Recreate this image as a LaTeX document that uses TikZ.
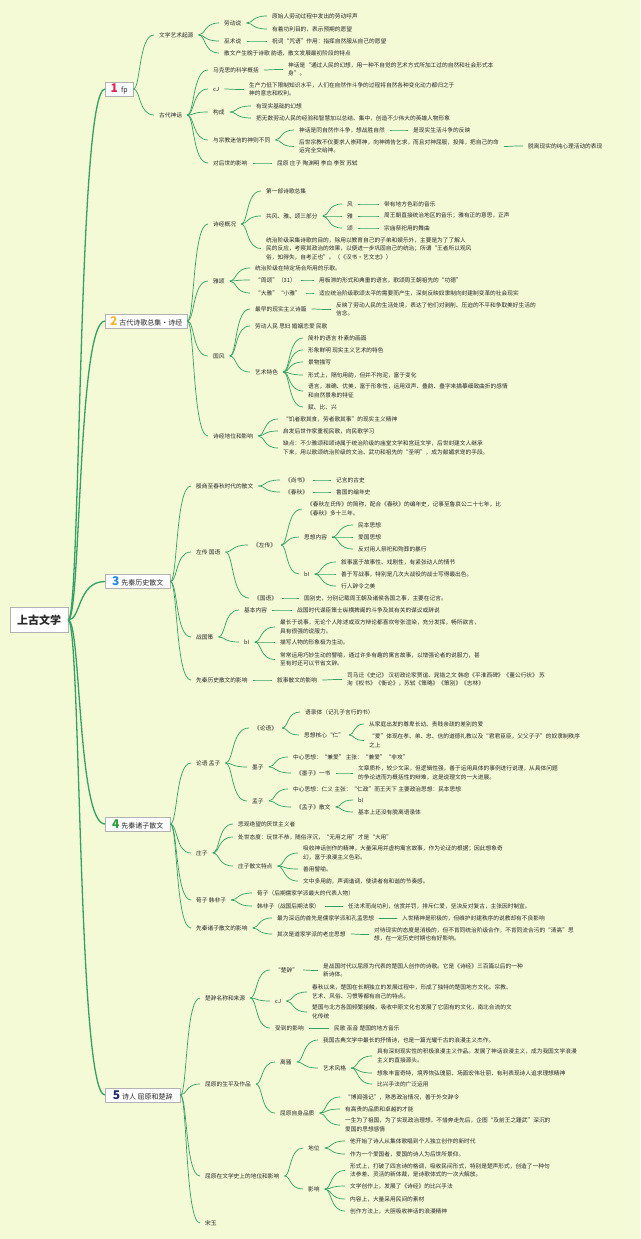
\documentclass[tikz,border=0pt]{standalone}
\usepackage{fontspec}
\setmainfont{Noto Sans CJK SC}
\usetikzlibrary{calc}
\definecolor{bg}{RGB}{244,250,214}
\definecolor{ln}{RGB}{52,160,100}
\definecolor{tx}{RGB}{40,40,40}
\definecolor{cA}{RGB}{226,36,80}
\definecolor{cB}{RGB}{245,184,46}
\definecolor{cC}{RGB}{30,136,229}
\definecolor{cD}{RGB}{46,158,62}
\definecolor{cE}{RGB}{31,42,107}
\newcommand\numc[2]{{\color{#1}\fontsize{12}{12}\selectfont\bfseries #2}}
\newcommand\lk[2]{\draw[lk] (#1.east) .. controls ($(#1.east)!0.35!(#1.east -| #2.west)$) and ($(#2.west -| #1.east)!0.25!(#2.west)$) .. (#2.west);}
\newcommand\lkm[2]{\draw[mk] (#1.east) .. controls ($(#1.east)!0.35!(#1.east -| #2.west)$) and ($(#2.west -| #1.east)!0.25!(#2.west)$) .. (#2.west);}
\tikzset{
 t/.style={anchor=west, xshift=-5pt, inner xsep=5pt, inner ysep=1pt, font=\fontsize{5.7}{8.6}\selectfont, text=tx, align=left},
 lk/.style={draw=ln, line width=0.7pt},
 mk/.style={draw=ln, line width=1.3pt},
 box/.style={anchor=west, draw=gray!60, fill=white, inner xsep=3pt, inner ysep=1.5pt, minimum height=14pt, font=\fontsize{7}{8}\selectfont, text=tx},
 rootbox/.style={draw=gray!60, fill=white, minimum width=58pt, minimum height=25pt, font=\fontsize{11}{12}\selectfont\bfseries, text=tx},
}
\begin{document}
\begin{tikzpicture}[x=1pt,y=-1pt]
\fill[bg] (0,0) rectangle (640,1239);
\useasboundingbox (0,0) rectangle (640,1239);

% root and branch boxes
\node[rootbox] (R) at (39,620) {上古文学};
\node[box, minimum width=28pt] (B1) at (105,89) {\numc{cA}{1}\hspace{3pt}fp};
\node[box, minimum width=82pt] (B2) at (105,321) {\numc{cB}{2}\hspace{2pt}古代诗歌总集·诗经};
\node[box, minimum width=65pt] (B3) at (105,581.5) {\numc{cC}{3}\hspace{2pt}先秦历史散文};
\node[box, minimum width=65pt] (B4) at (105,824) {\numc{cD}{4}\hspace{2pt}先秦诸子散文};
\node[box, minimum width=75pt] (B5) at (105,1095) {\numc{cE}{5}\hspace{2pt}诗人 屈原和楚辞};

% ---------- section 1
\node[t] (a1) at (159,35) {文学艺术起源};
\node[t] (a1a) at (224,23) {劳动说};
\node[t] (a1a1) at (272,16) {原始人劳动过程中发出的劳动呼声};
\node[t] (a1a2) at (272,29) {有着功利目的，表示预期的愿望};
\node[t] (a1b) at (224,41) {巫术说};
\node[t] (a1b1) at (272,41) {祝词“咒语”作用：指挥自然服从自己的愿望};
\node[t] (a1c) at (224,53) {散文产生晚于诗歌 韵语，散文发展最初阶段的特点};
\node[t] (a2) at (159,115) {古代神话};
\node[t] (a2a) at (213,70) {马克思的科学概括};
\node[t] (a2a1) at (288,69.5) {神话是“通过人民的幻想，用一种不自觉的艺术方式所加工过的自然和社会形式本\\身”。};
\node[t] (a2b) at (213,89) {cJ};
\node[t] (a2b1) at (249,89.5) {生产力低下限制知识水平，人们在自然作斗争的过程将自然各种变化动力都归之于\\神的意志和权利。};
\node[t] (a2c) at (213,112) {构成};
\node[t] (a2c1) at (256,106) {有现实基础的幻想};
\node[t] (a2c2) at (256,118) {把无数劳动人民的经验和智慧加以总结、集中，创造不少伟大的英雄人物形象};
\node[t] (a2d) at (213,140) {与宗教迷信的神则不同};
\node[t] (a2d1) at (299,130) {神话是同自然作斗争，想战胜自然};
\node[t] (a2d1a) at (413,130) {是现实生活斗争的反映};
\node[t] (a2d2) at (299,146.5) {后世宗教不仅要求人崇拜神，向神祷告乞求，而且对神屈服，投降，把自己的命\\运完全交给神。};
\node[t] (a2d2a) at (528,146) {脱离现实的纯心理活动的表现};
\node[t] (a2e) at (213,163) {对后世的影响};
\node[t] (a2e1) at (277,163) {屈原 庄子 陶渊明 李白 李贺 苏轼};

% ---------- section 2
\node[t] (b1) at (213,224) {诗经概况};
\node[t] (b1a) at (266,191) {第一部诗歌总集};
\node[t] (b1b) at (266,216) {共风、雅、颂三部分};
\node[t] (b1b1) at (347,204) {风};
\node[t] (b1b1a) at (384,204) {带有地方色彩的音乐};
\node[t] (b1b2) at (347,216) {雅};
\node[t] (b1b2a) at (384,216) {周王朝直接统治地区的音乐；雅有正的意思，正声};
\node[t] (b1b3) at (347,228) {颂};
\node[t] (b1b3a) at (384,228) {宗庙祭祀用的舞曲};
\node[t] (b1c) at (266,248.5) {统治阶级采集诗歌的目的，除用以教育自己的子弟和娱乐外，主要是为了了解人\\民的反应，考察其政治的效果，以便进一步巩固自己的统治；所谓“王者所以观风\\俗，知得失，自考正也”。（《汉书·艺文志》）};
\node[t] (b2) at (213,281) {雅颂};
\node[t] (b2a) at (255,268) {统治阶级在特定场合所用的乐歌。};
\node[t] (b2b) at (255,280) {“周颂”（31）};
\node[t] (b2b1) at (319,280) {用板滞的形式和典重的语言，歌颂周王朝祖先的“功德”};
\node[t] (b2c) at (255,293) {“大雅”“小雅”};
\node[t] (b2c1) at (319,293) {适应统治阶级歌颂太平的需要而产生，深刻反映奴隶制向封建制变革的社会现实};
\node[t] (b3) at (213,356) {国风};
\node[t] (b3a) at (255,309) {最早的现实主义诗篇};
\node[t] (b3a1) at (336,309.5) {反映了劳动人民的生活处境，表达了他们对剥削、压迫的不平和争取美好生活的\\信念。};
\node[t] (b3b) at (255,326) {劳动人民 思妇 婚姻恋爱 民歌};
\node[t] (b3c) at (255,372) {艺术特色};
\node[t] (b3c1) at (308,338) {简朴的语言 朴素的画面};
\node[t] (b3c2) at (308,350) {形象鲜明 现实主义艺术的特色};
\node[t] (b3c3) at (308,362) {景物描写};
\node[t] (b3c4) at (308,375) {形式上，隔句用韵，但并不拘泥，富于变化};
\node[t] (b3c5) at (308,391) {语言，准确、优美，富于形象性，运用双声、叠韵、叠字来描摹细致曲折的感情\\和自然景象的特征};
\node[t] (b3c6) at (308,407) {赋、比、兴};
\node[t] (b4) at (213,436) {诗经地位和影响};
\node[t] (b4a) at (283,419) {“饥者歌其食，劳者歌其事”的现实主义精神};
\node[t] (b4b) at (283,431) {启发后世作家重视民歌，向民歌学习};
\node[t] (b4c) at (283,448) {缺点：不少雅颂和颂诗属于统治阶级的庙堂文学和宫廷文学，后世封建文人继承\\下来，用以歌颂统治阶级的文治、武功和祖先的“圣明”，成为献媚求宠的手段。};

% ---------- section 3
\node[t] (c1) at (196,486) {殷商至春秋时代的散文};
\node[t] (c1a) at (285,480) {《尚书》};
\node[t] (c1a1) at (336,480) {记言的古史};
\node[t] (c1b) at (285,492) {《春秋》};
\node[t] (c1b1) at (336,492) {鲁国的编年史};
\node[t] (c2) at (196,552) {左传 国语};
\node[t] (c2a) at (253,545) {《左传》};
\node[t] (c2a1) at (307,509) {《春秋左氏传》的简称，配合《春秋》的编年史，记事至鲁哀公二十七年，比\\《春秋》多十三年。};
\node[t] (c2a2) at (304,537) {思想内容};
\node[t] (c2a2a) at (358,525) {民本思想};
\node[t] (c2a2b) at (358,537) {爱国思想};
\node[t] (c2a2c) at (358,549) {反对用人祭祀和殉葬的暴行};
\node[t] (c2a3) at (304,574) {bI};
\node[t] (c2a3a) at (341,562) {叙事富于故事性、戏剧性，有紧张动人的情节};
\node[t] (c2a3b) at (341,574) {善于写战事，特别是几次大战役的战士写得最出色。};
\node[t] (c2a3c) at (341,586) {行人辞令之美};
\node[t] (c2b) at (254,598) {《国语》};
\node[t] (c2b1) at (304,598) {国别史，分别记载周王朝及诸侯各国之事，主要在记言。};
\node[t] (c3) at (196,637) {战国策};
\node[t] (c3a) at (244,610) {基本内容};
\node[t] (c3a1) at (297,610) {战国时代谋臣策士纵横捭阖的斗争及其有关的谋议或辞说};
\node[t] (c3b) at (244,642) {bI};
\node[t] (c3b1) at (280,627) {最长于说事，无论个人陈述或双方辩论都喜欢夸张渲染，充分发挥，畅所欲言，\\具有很强的说服力。};
\node[t] (c3b2) at (280,642) {描写人物的形象极为生动。};
\node[t] (c3b3) at (280,659.5) {常常运用巧妙生动的譬喻，通过许多有趣的寓言故事，以增强论者的说服力，甚\\至有时还可以节省文辞。};
\node[t] (c4) at (196,680) {先秦历史散文的影响};
\node[t] (c4a) at (277,680) {叙事散文的影响};
\node[t] (c4a1) at (347,679.5) {司马迁《史记》 汉初政论家贾谊、晁错之文 韩愈《平淮西碑》《董公行状》 苏\\洵《权书》《衡论》，苏轼《策略》《策别》《志林》};

% ---------- section 4
\node[t] (d1) at (196,763) {论语 孟子};
\node[t] (d1a) at (254,728) {《论语》};
\node[t] (d1a1) at (305,712) {语录体（记孔子言行的书）};
\node[t] (d1a2) at (304,735) {思想核心“仁”};
\node[t] (d1a2a) at (369,724) {从家庭出发的尊卑长幼、贵贱亲疏的差别的爱};
\node[t] (d1a2b) at (369,740.5) {“爱”体现在孝、弟、忠、信的道德礼教以及“君君臣臣，父父子子”的奴隶制秩序\\之上};
\node[t] (d1b) at (252,767) {墨子};
\node[t] (d1b1) at (293,757) {中心思想：“兼爱” 主张：“兼爱”“非攻”};
\node[t] (d1b2) at (296,773) {《墨子》一书};
\node[t] (d1b2a) at (358,773) {文章质朴，较少文采，但逻辑性强，善于运用具体的事例进行说理，从具体问题\\的争论进而为概括性的辩难，这是说理文的一大进展。};
\node[t] (d1c) at (252,801) {孟子};
\node[t] (d1c1) at (293,789) {中心思想：仁义 主张：“仁政”而王天下 主要政治思想：民本思想};
\node[t] (d1c2) at (296,807) {《孟子》散文};
\node[t] (d1c2a) at (358,800) {bI};
\node[t] (d1c2b) at (358,812) {基本上还没有脱离语录体};
\node[t] (d2) at (196,853) {庄子};
\node[t] (d2a) at (238,824) {悲观绝望的厌世主义者};
\node[t] (d2b) at (238,837) {处世态度：玩世不恭，随俗浮沉，“无用之用”才是“大用”};
\node[t] (d2c) at (238,866) {庄子散文特点};
\node[t] (d2c1) at (303,853) {吸收神话创作的精神，大量采用并虚构寓言故事，作为论证的根据；因此想象奇\\幻，富于浪漫主义色彩。};
\node[t] (d2c2) at (303,869) {善用譬喻。};
\node[t] (d2c3) at (303,881) {文中多用韵，声调谐调，使读者有和谐的节奏感。};
\node[t] (d3) at (196,900) {荀子 韩非子};
\node[t] (d3a) at (257,893) {荀子（后期儒家学派最大的代表人物）};
\node[t] (d3b) at (257,906) {韩非子（战国后期法家）};
\node[t] (d3b1) at (348,906) {任法术而尚功利，信赏并罚，排斥仁爱，坚决反对复古，主张因时制宜。};
\node[t] (d4) at (196,928) {先秦诸子散文的影响};
\node[t] (d4a) at (277,918) {最为深远的首先是儒家学派和孔孟思想};
\node[t] (d4a1) at (402,918) {入世精神是积极的，但维护封建秩序的说教却有不良影响};
\node[t] (d4b) at (277,934) {其次是道家学派的老庄思想};
\node[t] (d4b1) at (374,934.5) {对待现实的态度是消极的，但不肯同统治阶级合作，不肯同流合污的“清高”思\\想，在一定历史时期也有好影响。};

% ---------- section 5
\node[t] (e1) at (205,998) {楚辞名称和来源};
\node[t] (e1a) at (275,970) {“楚辞”};
\node[t] (e1a1) at (323,970.5) {是战国时代以屈原为代表的楚国人创作的诗歌。它是《诗经》三百篇以后的一种\\新诗体。};
\node[t] (e1b) at (275,1001) {cJ};
\node[t] (e1b1) at (312,992) {春秋以来，楚国在长期独立的发展过程中，形成了独特的楚国地方文化。宗教、\\艺术、风俗、习惯等都有自己的特点。};
\node[t] (e1b2) at (312,1012) {楚国与北方各国频繁接触，吸收中原文化也发展了它固有的文化，南北合流的文\\化传统};
\node[t] (e1c) at (275,1028) {受到的影响};
\node[t] (e1c1) at (334,1028) {民歌 巫音 楚国的地方音乐};
\node[t] (e2) at (205,1084) {屈原的生平及作品};
\node[t] (e2a) at (280,1062) {离骚};
\node[t] (e2a1) at (323,1040) {我国古典文学中最长的抒情诗，也是一篇光耀千古的浪漫主义杰作。};
\node[t] (e2a2) at (323,1068) {艺术风格};
\node[t] (e2a2a) at (377,1056) {具有深刻现实性的积极浪漫主义作品。发展了神话浪漫主义，成为我国文学浪漫\\主义的直接源头。};
\node[t] (e2a2b) at (377,1073) {想象丰富奇特，境界恢弘瑰丽，场面宏伟壮丽，有利表现诗人追求理想精神};
\node[t] (e2a2c) at (377,1084) {比兴手法的广泛运用};
\node[t] (e2b) at (280,1113) {屈原自身品质};
\node[t] (e2b1) at (345,1097) {“博闻强记”，熟悉政治情况，善于外交辞令};
\node[t] (e2b2) at (345,1109) {有高贵的品质和卓越的才能};
\node[t] (e2b3) at (345,1125) {一生为了祖国，为了实现政治理想，不惜奔走先后，企图“及前王之踵武”深沉的\\爱国的思想感情};
\node[t] (e3) at (205,1176) {屈原在文学史上的地位和影响};
\node[t] (e3a) at (308,1148) {地位};
\node[t] (e3a1) at (350,1141) {他开始了诗人从集体歌唱到个人独立创作的新时代};
\node[t] (e3a2) at (350,1154) {作为一个爱国者，爱国的诗人为后世所景仰。};
\node[t] (e3b) at (308,1189) {影响};
\node[t] (e3b1) at (350,1170.5) {形式上，打破了四言诗的格调，吸收民间形式，特别是楚声形式，创造了一种句\\法参差、灵活的新体裁，是诗歌体式的一次大解放。};
\node[t] (e3b2) at (350,1186) {文学创作上，发展了《诗经》的比兴手法};
\node[t] (e3b3) at (350,1199) {内容上，大量采用民间的素材};
\node[t] (e3b4) at (350,1211) {创作方法上，大胆吸收神话的浪漫精神};
\node[t] (e4) at (205,1223) {宋玉};

% ---------- connectors
\foreach \c in {B1,B2,B3,B4,B5} {\lkm{R}{\c}}
\foreach \p/\c in {B1/a1,B1/a2,a1/a1a,a1/a1b,a1/a1c,a1a/a1a1,a1a/a1a2,a1b/a1b1,
  a2/a2a,a2/a2b,a2/a2c,a2/a2d,a2/a2e,a2a/a2a1,a2b/a2b1,a2c/a2c1,a2c/a2c2,
  a2d/a2d1,a2d/a2d2,a2d1/a2d1a,a2d2/a2d2a,a2e/a2e1,
  B2/b1,B2/b2,B2/b3,B2/b4,b1/b1a,b1/b1b,b1/b1c,b1b/b1b1,b1b/b1b2,b1b/b1b3,
  b1b1/b1b1a,b1b2/b1b2a,b1b3/b1b3a,b2/b2a,b2/b2b,b2/b2c,b2b/b2b1,b2c/b2c1,
  b3/b3a,b3/b3b,b3/b3c,b3a/b3a1,b3c/b3c1,b3c/b3c2,b3c/b3c3,b3c/b3c4,b3c/b3c5,b3c/b3c6,
  b4/b4a,b4/b4b,b4/b4c,
  B3/c1,B3/c2,B3/c3,B3/c4,c1/c1a,c1/c1b,c1a/c1a1,c1b/c1b1,c2/c2a,c2/c2b,
  c2a/c2a1,c2a/c2a2,c2a/c2a3,c2a2/c2a2a,c2a2/c2a2b,c2a2/c2a2c,c2a3/c2a3a,c2a3/c2a3b,c2a3/c2a3c,
  c2b/c2b1,c3/c3a,c3/c3b,c3a/c3a1,c3b/c3b1,c3b/c3b2,c3b/c3b3,c4/c4a,c4a/c4a1,
  B4/d1,B4/d2,B4/d3,B4/d4,d1/d1a,d1/d1b,d1/d1c,d1a/d1a1,d1a/d1a2,d1a2/d1a2a,d1a2/d1a2b,
  d1b/d1b1,d1b/d1b2,d1b2/d1b2a,d1c/d1c1,d1c/d1c2,d1c2/d1c2a,d1c2/d1c2b,
  d2/d2a,d2/d2b,d2/d2c,d2c/d2c1,d2c/d2c2,d2c/d2c3,d3/d3a,d3/d3b,d3b/d3b1,
  d4/d4a,d4/d4b,d4a/d4a1,d4b/d4b1,
  B5/e1,B5/e2,B5/e3,B5/e4,e1/e1a,e1/e1b,e1/e1c,e1a/e1a1,e1b/e1b1,e1b/e1b2,e1c/e1c1,
  e2/e2a,e2/e2b,e2a/e2a1,e2a/e2a2,e2a2/e2a2a,e2a2/e2a2b,e2a2/e2a2c,
  e2b/e2b1,e2b/e2b2,e2b/e2b3,e3/e3a,e3/e3b,e3a/e3a1,e3a/e3a2,
  e3b/e3b1,e3b/e3b2,e3b/e3b3,e3b/e3b4} {\lk{\p}{\c}}
\end{tikzpicture}
\end{document}
